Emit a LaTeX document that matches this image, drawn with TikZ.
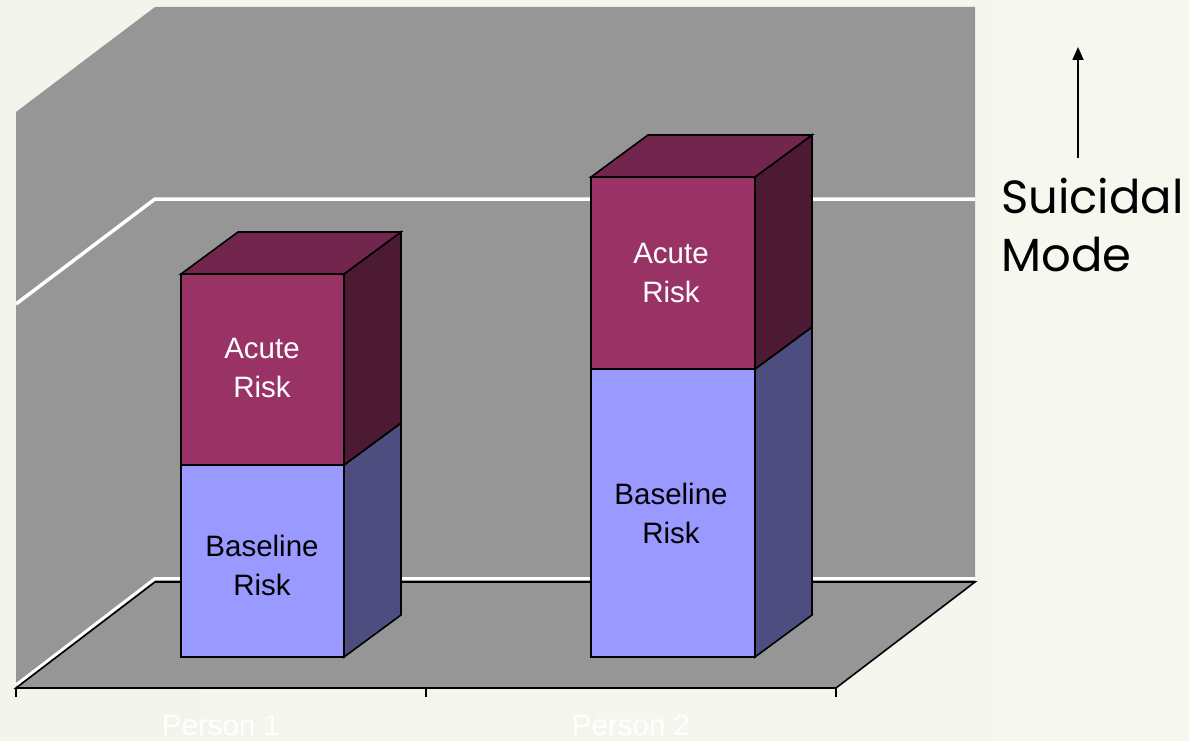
\documentclass[tikz,border=0pt]{standalone}
\usepackage{fontspec}
\setmainfont{Liberation Sans}
\newfontfamily\modefont{Poppins}
\usetikzlibrary{arrows.meta}

\definecolor{bgleft}{RGB}{243,245,236}
\definecolor{bgright}{RGB}{246,248,240}
\definecolor{wallgray}{RGB}{150,150,150}
\definecolor{acutefront}{RGB}{153,51,102}
\definecolor{acutetop}{RGB}{115,38,77}
\definecolor{acuteside}{RGB}{77,26,51}
\definecolor{basefront}{RGB}{153,153,255}
\definecolor{baseside}{RGB}{77,77,128}

\tikzset{
  face/.style={draw=black, line width=1.6pt, line join=miter},
  gridline/.style={draw=white, line width=3.5pt},
  edge/.style={draw=black, line width=1.6pt},
  barlabel/.style={align=center, font=\fontsize{29.5}{39}\selectfont},
  catlabel/.style={text=white, font=\fontsize{29.5}{35}\selectfont},
}

% one stacked 3-D column: #1 left, #2 right, #3 top, #4 split, #5 bottom
\newcommand{\stackbar}[5]{%
  \def\dx{57}\def\dy{-42}%
  \fill[basefront, face] (#1,#4) rectangle (#2,#5);
  \fill[baseside, face] (#2,#4) -- ++(\dx,\dy) -- (#2+\dx,#5+\dy) -- (#2,#5) -- cycle;
  \fill[acutefront, face] (#1,#3) rectangle (#2,#4);
  \fill[acuteside, face] (#2,#3) -- ++(\dx,\dy) -- (#2+\dx,#4+\dy) -- (#2,#4) -- cycle;
  \fill[acutetop, face] (#1,#3) -- ++(\dx,\dy) -- (#2+\dx,#3+\dy) -- (#2,#3) -- cycle;
}

\begin{document}
\begin{tikzpicture}[x=1pt,y=-1pt]
  % page and background
  \useasboundingbox (0,0) rectangle (1189,741);
  \shade[left color=bgleft, right color=bgright] (0,0) rectangle (1189,741);

  % back wall and side wall
  \fill[wallgray] (16,112) -- (155,7) -- (975,7) -- (975,581) -- (155,581) -- (16,688) -- cycle;

  % major gridlines
  \draw[gridline] (16,304) -- (155,199) -- (975,199);
  \draw[gridline, line width=3pt] (16,685) -- (155,578.5) -- (975,578.5);

  % floor
  \fill[wallgray, edge] (16,688) -- (155,582) -- (975,582) -- (836,688) -- cycle;

  % category axis ticks
  \draw[edge] (16,688) -- (16,697);
  \draw[edge] (426,688) -- (426,697);
  \draw[edge] (836,688) -- (836,697);

  % columns
  \stackbar{181}{344}{274}{465}{657}
  \stackbar{591}{755}{177}{369}{657}

  % column labels
  \node[barlabel, text=white] (acute1) at (262,368) {Acute\\Risk};
  \node[barlabel, text=black] (base1) at (262,565) {Baseline\\Risk};
  \node[barlabel, text=white] (acute2) at (671,273) {Acute\\Risk};
  \node[barlabel, text=black] (base2) at (671,513) {Baseline\\Risk};

  % category labels
  \node[catlabel] (person1) at (221,725) {Person 1};
  \node[catlabel] (person2) at (631,725) {Person 2};

  % suicidal mode indicator
  \node[align=left, anchor=north west, inner sep=0pt,
        font=\modefont\fontsize{46.5}{58}\selectfont] (mode) at (1001,178) {Suicidal\\Mode};
  \coordinate (arrowfoot) at (1078,158);
  \coordinate (arrowtip) at (1078,47);
  \draw[line width=1.8pt, -{Triangle[length=13pt,width=11pt]}] (arrowfoot) -- (arrowtip);
\end{tikzpicture}
\end{document}
